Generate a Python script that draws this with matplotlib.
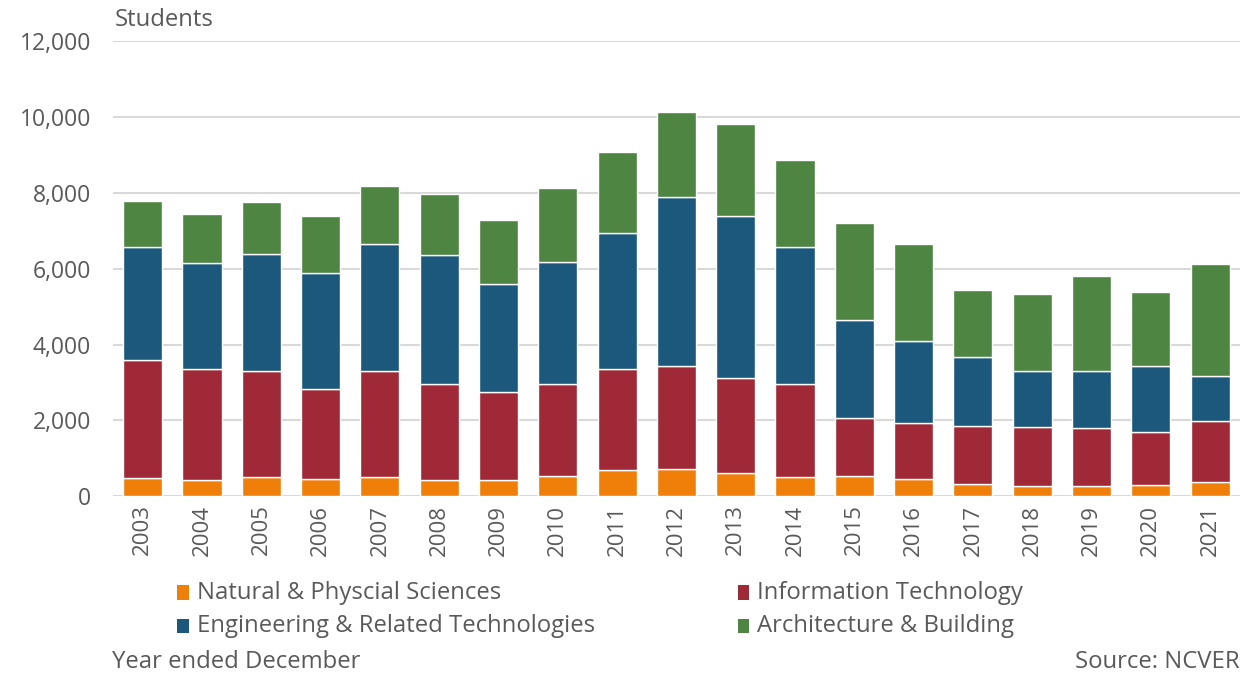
import matplotlib
matplotlib.use("Agg")
import matplotlib.pyplot as plt
import numpy as np
from matplotlib.patches import Rectangle

years = [str(y) for y in range(2003, 2022)]
natural = [474, 414, 502, 458, 502, 440, 440, 545, 703, 721, 606, 519, 527, 448, 316, 274, 274, 283, 387]
info_tech = [3128, 2933, 2802, 2362, 2802, 2512, 2310, 2407, 2644, 2705, 2513, 2433, 1537, 1486, 1529, 1553, 1536, 1404, 1589]
engineering = [2978, 2811, 3082, 3057, 3337, 3417, 2837, 3224, 3593, 4453, 4259, 3620, 2593, 2169, 1818, 1485, 1502, 1749, 1196]
architecture = [1212, 1283, 1379, 1501, 1528, 1599, 1704, 1950, 2143, 2258, 2451, 2292, 2555, 2547, 1784, 2021, 2485, 1958, 2941]

series_names = ["Natural & Physcial Sciences", "Information Technology",
                "Engineering & Related Technologies", "Architecture & Building"]
colors = ["#F07F09", "#9F2936", "#1B587C", "#4E8542"]
yticks = [0, 2000, 4000, 6000, 8000, 10000, 12000]

plt.rcParams['font.family'] = ['Open Sans', 'DejaVu Sans']
text_color = "#595959"
fs = 17.2

fig = plt.figure(figsize=(12.45, 6.76), dpi=100)
ax = fig.add_axes([0.0908, 0.266, 0.905, 0.673])

x = np.arange(len(years))
bottom = np.zeros(len(years))
for vals, c in zip([natural, info_tech, engineering, architecture], colors):
    ax.bar(x, vals, 0.66, bottom=bottom, color=c, edgecolor="white", linewidth=1.0, zorder=3)
    bottom += np.array(vals)

ax.set_ylim(0, 12000)
ax.set_xlim(-0.5, len(years) - 0.5)
ax.set_yticks(yticks)
ax.set_yticklabels([f"{v:,}" for v in yticks], fontsize=16.5, color=text_color)
ax.set_xticks(x)
ax.set_xticklabels(years, rotation=90, fontsize=16, color=text_color)
ax.tick_params(axis='both', length=0)
ax.tick_params(axis='y', pad=16)
ax.tick_params(axis='x', pad=6)
ax.grid(axis='y', color="#D9D9D9", linewidth=1.5, zorder=0)
for s in ax.spines.values():
    s.set_visible(False)

fig.text(0.0924, 0.97, "Students", fontsize=fs, color=text_color, va='center', ha='left')
fig.text(0.09, 0.02, "Year ended December", fontsize=fs, color=text_color, va='center', ha='left')
fig.text(0.996, 0.02, "Source: NCVER", fontsize=fs, color=text_color, va='center', ha='right')

# legend
leg_pos = [(0.145, 0.123), (0.595, 0.123), (0.145, 0.074), (0.595, 0.074)]
for name, c, (lx, ly) in zip(series_names, colors, leg_pos):
    fig.patches.append(Rectangle((lx - 0.0025, ly - 0.011), 0.0095, 0.022, transform=fig.transFigure,
                                 facecolor=c, edgecolor='none'))
    fig.text(lx + 0.013, ly, name, fontsize=fs, color=text_color, va='center', ha='left')

fig.savefig("out.png", dpi=100)
